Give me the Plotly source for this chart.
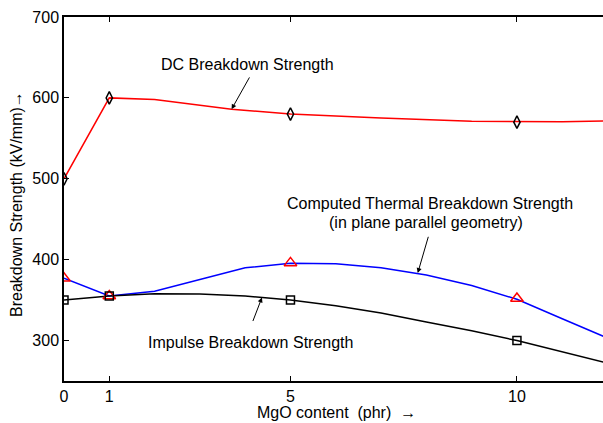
import plotly.graph_objects as go

# MgO content (phr) at which each curve is sampled
x_dc = [0, 1, 2, 3.7, 5, 7, 9, 10, 11, 12]
dc_curve = [500, 600, 598, 586, 580, 575, 571, 570.5, 570.5, 571.5]

x_thermal = [0, 1, 2, 4, 5, 6, 7, 8, 9, 10, 11, 12]
thermal_curve = [377, 355, 361, 390, 395.5, 395, 390, 381, 368, 351, 327, 303]

x_impulse = [0, 1, 2, 3, 4, 5, 6, 7, 8, 9, 10, 11, 12]
impulse_curve = [350, 355, 358, 357.5, 355, 350, 343, 334, 323, 312, 300, 286, 272]

# measured points
x_meas = [0, 1, 5, 10]
dc_meas = [500, 600, 580, 570]
thermal_meas = [377, 355, 396, 352]
impulse_meas = [350, 355, 350, 300]

x_ticks = [0, 1, 5, 10]
y_ticks = [300, 400, 500, 600, 700]

FONT = "Liberation Sans, Arial, sans-serif"

fig = go.Figure()

fig.add_trace(go.Scatter(x=x_dc, y=dc_curve, mode="lines",
                         line=dict(color="#ff0000", width=1.5)))
fig.add_trace(go.Scatter(x=x_thermal, y=thermal_curve, mode="lines",
                         line=dict(color="#0000ff", width=1.5)))
fig.add_trace(go.Scatter(x=x_impulse, y=impulse_curve, mode="lines",
                         line=dict(color="#000000", width=1.5)))

fig.add_trace(go.Scatter(x=x_meas, y=dc_meas, mode="markers",
                         marker=dict(symbol="diamond-tall-open", size=9,
                                     color="#000000", line=dict(width=1.5))))
fig.add_trace(go.Scatter(x=x_meas, y=thermal_meas, mode="markers",
                         marker=dict(symbol="triangle-up-open", size=11,
                                     color="#ff0000", line=dict(width=1.5))))
fig.add_trace(go.Scatter(x=x_meas, y=impulse_meas, mode="markers",
                         marker=dict(symbol="square-open", size=8,
                                     color="#000000", line=dict(width=1.5))))

txt = dict(family=FONT, size=16, color="#000000")

annotations = [
    # curve labels
    dict(x=4.05, y=641, text="DC Breakdown Strength", showarrow=False, font=txt),
    dict(x=8.07, y=469.2, text="Computed Thermal Breakdown Strength",
         showarrow=False, font=txt),
    dict(x=8.0, y=445.7, text="(in plane parallel geometry)",
         showarrow=False, font=txt),
    dict(x=4.12, y=297.7, text="Impulse Breakdown Strength",
         showarrow=False, font=txt),
    # pointers to the curves
    dict(x=3.7, y=586, ax=18.7, ay=-33.3, text="", showarrow=True,
         arrowhead=2, arrowsize=1, arrowwidth=1, arrowcolor="#000000"),
    dict(x=7.81, y=383.5, ax=11, ay=-37.7, text="", showarrow=True,
         arrowhead=2, arrowsize=1, arrowwidth=1, arrowcolor="#000000"),
    dict(x=4.37, y=353.2, ax=-9.6, ay=25, text="", showarrow=True,
         arrowhead=2, arrowsize=1, arrowwidth=1, arrowcolor="#000000"),
    # axis titles
    dict(xref="paper", yref="paper", x=(336 - 64) / 539, y=-(413 - 381) / 364,
         xanchor="center", yanchor="middle",
         text="MgO content  (phr)  \u2192", showarrow=False, font=txt),
    dict(xref="paper", yref="paper", x=-(64 - 17) / 539, y=(381 - 204) / 364,
         xanchor="center", yanchor="middle",
         text="Breakdown Strength (kV/mm)\u2192", textangle=-90,
         showarrow=False, font=txt),
]

fig.update_layout(
    width=603, height=423,
    margin=dict(l=64, r=0, t=17, b=42),
    paper_bgcolor="white", plot_bgcolor="white",
    showlegend=False,
    font=txt,
    annotations=annotations,
    xaxis=dict(range=[0, 11.9], tickvals=x_ticks, ticks="inside", ticklen=5,
               tickcolor="#000000", showline=True, linecolor="#000000",
               linewidth=1.5, mirror="ticks", showgrid=False, zeroline=False,
               tickfont=txt),
    yaxis=dict(range=[250, 700], tickvals=y_ticks, ticks="inside", ticklen=5,
               tickcolor="#000000", showline=True, linecolor="#000000",
               linewidth=1.5, mirror=False, showgrid=False, zeroline=False,
               tickfont=txt),
)

fig.write_html("out.html")
